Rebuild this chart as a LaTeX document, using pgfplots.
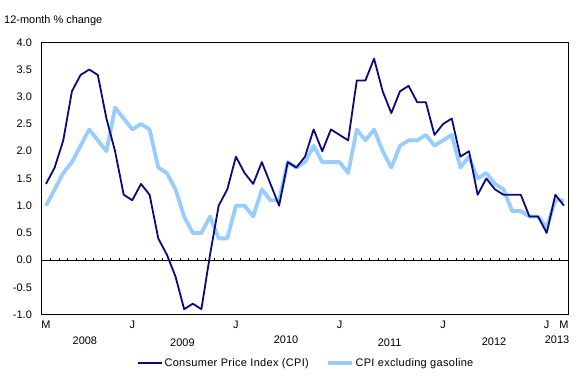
\documentclass[border=0pt]{standalone}
\usepackage{fontspec}
\setmainfont{Liberation Sans}
\usepackage{pgfplots}
\pgfplotsset{compat=1.18}
\definecolor{cpidark}{RGB}{10,10,120}
\definecolor{cpilight}{RGB}{153,204,255}
\pgfplotstableread{
idx cpi
0 1.4
1 1.7
2 2.2
3 3.1
4 3.4
5 3.5
6 3.4
7 2.6
8 2.0
9 1.2
10 1.1
11 1.4
12 1.2
13 0.4
14 0.1
15 -0.3
16 -0.9
17 -0.8
18 -0.9
19 0.1
20 1.0
21 1.3
22 1.9
23 1.6
24 1.4
25 1.8
26 1.4
27 1.0
28 1.8
29 1.7
30 1.9
31 2.4
32 2.0
33 2.4
34 2.3
35 2.2
36 3.3
37 3.3
38 3.7
39 3.1
40 2.7
41 3.1
42 3.2
43 2.9
44 2.9
45 2.3
46 2.5
47 2.6
48 1.9
49 2.0
50 1.2
51 1.5
52 1.3
53 1.2
54 1.2
55 1.2
56 0.8
57 0.8
58 0.5
59 1.2
60 1.0
}\cpitable
\pgfplotstableread{
idx exgas
0 1.0
1 1.3
2 1.6
3 1.8
4 2.1
5 2.4
6 2.2
7 2.0
8 2.8
9 2.6
10 2.4
11 2.5
12 2.4
13 1.7
14 1.6
15 1.3
16 0.8
17 0.5
18 0.5
19 0.8
20 0.4
21 0.4
22 1.0
23 1.0
24 0.8
25 1.3
26 1.1
27 1.1
28 1.8
29 1.7
30 1.8
31 2.1
32 1.8
33 1.8
34 1.8
35 1.6
36 2.4
37 2.2
38 2.4
39 2.0
40 1.7
41 2.1
42 2.2
43 2.2
44 2.3
45 2.1
46 2.2
47 2.3
48 1.7
49 1.9
50 1.5
51 1.6
52 1.4
53 1.3
54 0.9
55 0.9
56 0.8
57 0.8
58 0.6
59 1.1
60 1.1
}\exgastable
\begin{document}
\fontsize{11}{13}\selectfont
\begin{tikzpicture}
\useasboundingbox (-41.7bp,-65.4bp) rectangle (546.3bp,314.6bp);
\begin{axis}[
  at={(0,0)}, anchor=south west,
  scale only axis, width=526.6bp, height=272.3bp,
  xmin=-0.5, xmax=60.5, ymin=-1, ymax=4,
  axis line style={black, line width=0.8bp},
  ytick={-1,-0.5,0,0.5,1,1.5,2,2.5,3,3.5,4},
  yticklabel style={/pgf/number format/fixed, /pgf/number format/fixed zerofill, /pgf/number format/precision=1, xshift=-6bp},
  /pgf/number format/assume math mode=true,
  xtick={0,10,22,34,46,58,60},
  xticklabels={M,J,J,J,J,J,M},
  xticklabel style={yshift=-2.5bp},
  major tick length=0pt,
  tick style={draw=none},
  legend style={at={(0.502,-0.178)}, anchor=center, draw=none, fill=none,
    legend columns=2, /tikz/every even column/.append style={column sep=15bp},
    font=\fontsize{11}{13}\selectfont\addfontfeature{LetterSpace=3}, inner sep=0pt},
  legend image code/.code={\draw[#1] (0bp,0bp) -- (24bp,0bp);},
  clip=false,
]
\addlegendimage{cpidark, line width=1.8bp}
\addlegendentry{Consumer Price Index (CPI)}
\addlegendimage{cpilight, line width=3.8bp}
\addlegendentry{CPI excluding gasoline}
\draw[black, line width=0.8bp] (axis cs:-0.5,0) -- (axis cs:60.5,0);
\pgfplotsinvokeforeach{0.5,1.5,...,59.5}{\draw[black, line width=0.6bp] (axis cs:#1,0) -- (axis cs:#1,0.045);}
\addplot[cpilight, line width=3.8bp, line join=round, forget plot] table[x=idx, y=exgas] {\exgastable};
\addplot[cpidark, line width=1.8bp, line join=round, forget plot] table[x=idx, y=cpi] {\cpitable};
\node at (axis cs:4.5,-1) [yshift=-26.4bp] {2008};
\node at (axis cs:15.8,-1) [yshift=-27.7bp] {2009};
\node at (axis cs:27.8,-1) [yshift=-25.4bp] {2010};
\node at (axis cs:39.8,-1) [yshift=-27.7bp] {2011};
\node at (axis cs:51.9,-1) [yshift=-27.1bp] {2012};
\node at (axis cs:59.2,-1) [yshift=-25.4bp] {2013};
\end{axis}
\node[anchor=base west, inner sep=0pt] at (-37.7bp,290.6bp) {12-month \% change};
\end{tikzpicture}
\end{document}
